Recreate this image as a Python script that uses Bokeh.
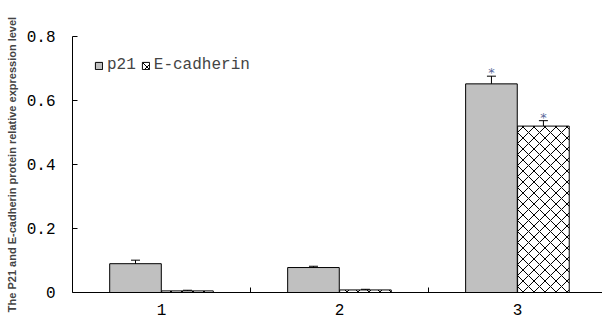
from bokeh.plotting import figure
from bokeh.models import ColumnDataSource, FixedTicker, Whisker, TeeHead, Legend, LegendItem
from bokeh.transform import dodge
from bokeh.core.properties import value
from bokeh.embed import file_html
from bokeh.resources import INLINE

categories = [1, 2, 3]
p21 = [0.090, 0.078, 0.652]
p21_err = [0.011, 0.004, 0.024]
ecad = [0.005, 0.008, 0.520]
ecad_err = [0.002, 0.002, 0.017]
p21_sig = ["", "", "*"]
ecad_sig = ["", "", "*"]
y_ticks = [0, 0.2, 0.4, 0.6, 0.8]
y_tick_labels = ["0", "0.2", "0.4", "0.6", "0.8"]
x_tick_labels = ["1", "2", "3"]

OFF = 0.146
W = 0.29

src = ColumnDataSource(dict(
    x=categories,
    p21=p21,
    p21_lo=[v - e for v, e in zip(p21, p21_err)],
    p21_hi=[v + e for v, e in zip(p21, p21_err)],
    ecad=ecad,
    ecad_lo=[v - e for v, e in zip(ecad, ecad_err)],
    ecad_hi=[v + e for v, e in zip(ecad, ecad_err)],
    p21_sig=p21_sig,
    ecad_sig=ecad_sig,
))

p = figure(width=602, height=322, output_backend="svg", toolbar_location=None,
           x_range=(0.5, 3.478), y_range=(0, 0.8),
           min_border_left=72, min_border_right=0, min_border_top=36, min_border_bottom=30)
p.outline_line_color = None
p.grid.visible = False
p.background_fill_color = "white"

mono = "Liberation Mono"

r1 = p.vbar(x=dodge("x", -OFF), top="p21", width=W, source=src,
            fill_color="#C0C0C0", line_color="black", line_width=1)
r2 = p.vbar(x=dodge("x", OFF), top="ecad", width=W, source=src,
            fill_color="white", line_color="black", line_width=1,
            hatch_pattern="diagonal_cross", hatch_color="black", hatch_scale=11, hatch_weight=1)

for xoff, lo, hi in [(-OFF, "p21_lo", "p21_hi"), (OFF, "ecad_lo", "ecad_hi")]:
    w = Whisker(source=src, base=dodge("x", xoff), upper=hi, lower=lo,
                line_color="black", line_width=1,
                upper_head=TeeHead(size=9, line_color="black", line_width=1),
                lower_head=TeeHead(size=9, line_color="black", line_width=1))
    p.add_layout(w)

p.text(x=dodge("x", -OFF), y="p21_hi", text="p21_sig", source=src, text_align="center",
       text_baseline="bottom", text_color="#5a6a9a", text_font_size="13px", y_offset=4,
       text_font=value("DejaVu Sans"))
p.text(x=dodge("x", OFF), y="ecad_hi", text="ecad_sig", source=src, text_align="center",
       text_baseline="bottom", text_color="#5a6a9a", text_font_size="13px", y_offset=4,
       text_font=value("DejaVu Sans"))

# y axis
ya = p.yaxis[0]
ya.ticker = FixedTicker(ticks=y_ticks, minor_ticks=[])
ya.major_label_overrides = {t: l for t, l in zip(y_ticks, y_tick_labels)}
ya.major_tick_in = 5
ya.major_tick_out = 0
ya.minor_tick_line_color = None
ya.axis_line_color = "black"
ya.major_label_text_font = mono
ya.major_label_text_font_size = "16px"
ya.major_label_text_color = "black"
ya.major_label_standoff = 17
ya.axis_label = "The P21 and E-cadherin protein relative expression level"
ya.axis_label_text_font = "Liberation Sans"
ya.axis_label_text_font_style = "bold"
ya.axis_label_text_font_size = "11px"
ya.axis_label_standoff = 6

# x axis
xa = p.xaxis[0]
xa.ticker = FixedTicker(ticks=categories, minor_ticks=[c + 0.5 for c in categories[:-1]])
xa.major_label_overrides = {c: l for c, l in zip(categories, x_tick_labels)}
xa.major_tick_line_color = None
xa.major_tick_in = 0
xa.major_tick_out = 0
xa.minor_tick_in = 5
xa.minor_tick_out = 0
xa.minor_tick_line_color = "black"
xa.axis_line_color = "black"
xa.major_label_text_font = mono
xa.major_label_text_font_size = "16px"
xa.major_label_text_color = "black"
xa.major_label_standoff = 11

legend = Legend(items=[LegendItem(label="p21", renderers=[r1]),
                       LegendItem(label="E-cadherin", renderers=[r2])],
                location=(22, 218), orientation="horizontal",
                glyph_width=9, glyph_height=9, label_standoff=4, spacing=5,
                padding=0, margin=0, border_line_color=None, background_fill_alpha=0,
                label_text_font=mono, label_text_font_size="16px", label_height=18)
p.add_layout(legend)

open("out.html", "w").write(file_html(p, INLINE))
